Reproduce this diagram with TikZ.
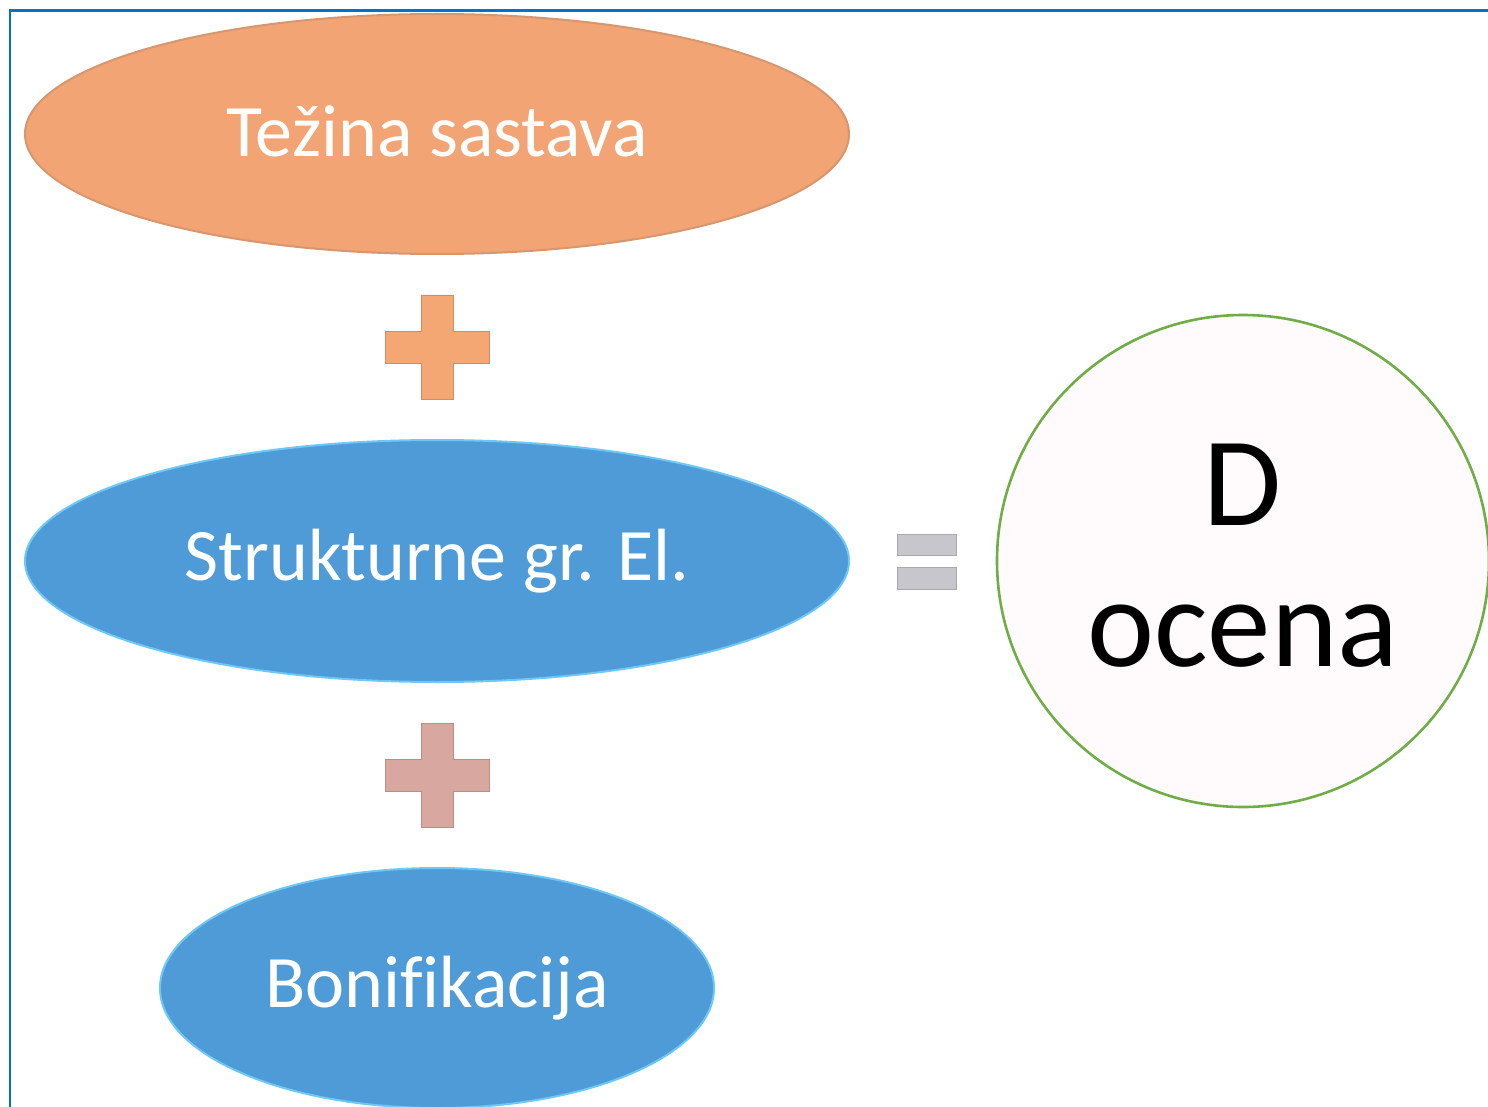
\documentclass[tikz,border=0pt]{standalone}
\usepackage{fontspec}
\setmainfont{Carlito}[Ligatures=CommonOff]
\usetikzlibrary{shapes.geometric,calc}
\definecolor{frameblue}{RGB}{0,114,198}
\definecolor{orangefill}{RGB}{242,164,116}
\definecolor{orangeedge}{RGB}{214,150,110}
\definecolor{bluefill}{RGB}{79,155,216}
\definecolor{blueedge}{RGB}{110,200,245}
\definecolor{plusorange}{RGB}{244,166,115}
\definecolor{pluspink}{RGB}{216,168,160}
\definecolor{eqgray}{RGB}{198,198,204}
\definecolor{circlegreen}{RGB}{112,173,71}
\definecolor{circlefill}{RGB}{255,251,253}
\tikzset{
  oval/.style={ellipse, inner sep=0pt, text=white, font=\fontsize{37}{45}\selectfont},
  orangeoval/.style={oval, fill=orangefill, draw=orangeedge, line width=1pt},
  blueoval/.style={oval, fill=bluefill, draw=blueedge, line width=1pt},
  plusshape/.style={line width=0.4pt},
  eqbar/.style={fill=eqgray, draw=eqgray!85!black, line width=0.3pt},
}
\newcommand{\plusat}[2]{%
  \path[fill=#2, draw=#2!85!black, plusshape] ($(#1)+(-16,-52)$) -- ($(#1)+(16,-52)$) -- ($(#1)+(16,-16)$) -- ($(#1)+(52,-16)$) -- ($(#1)+(52,16)$) -- ($(#1)+(16,16)$) -- ($(#1)+(16,52)$) -- ($(#1)+(-16,52)$) -- ($(#1)+(-16,16)$) -- ($(#1)+(-52,16)$) -- ($(#1)+(-52,-16)$) -- ($(#1)+(-16,-16)$) -- cycle;}
\begin{document}
\begin{tikzpicture}[x=0.5pt, y=-0.5pt]
\useasboundingbox (0,0) rectangle (1488,1107);
\clip (0,0) rectangle (1488,1107);
\fill[white] (0,0) rectangle (1488,1107);
\draw[frameblue, line width=1.2pt] (10,1120) -- (10,10.5) -- (1500,10.5);

\node[orangeoval, minimum width=412pt, minimum height=120pt] (tezina) at (437,134) {};
\node[text=white, font=\fontsize{37}{45}\selectfont, inner sep=0pt] (tezinatext) at (437,131) {Težina sastava};
\coordinate (plusA) at (437,347);
\plusat{plusA}{plusorange}
\node[blueoval, minimum width=412pt, minimum height=121pt] (strukt) at (437,561) {Strukturne gr. El.};
\coordinate (plusB) at (437,775);
\plusat{plusB}{pluspink}
\node[blueoval, minimum width=277pt, minimum height=120pt] (bonif) at (437,988) {Bonifikacija};

\coordinate (eq) at (926.5,561.5);
\path[eqbar] ($(eq)+(-29.5,-27.5)$) rectangle ($(eq)+(29.5,-6.5)$);
\path[eqbar] ($(eq)+(-29.5,5.5)$) rectangle ($(eq)+(29.5,27.5)$);

\node[circle, minimum size=246pt, inner sep=0pt, fill=circlefill, draw=circlegreen, line width=1.3pt] (docena) at (1243,561) {};
\node[align=center, font=\fontsize{63.5}{70.5}\selectfont, inner sep=0pt] (dtext) at (1243,556) {D\\ocena};
\end{tikzpicture}
\end{document}
